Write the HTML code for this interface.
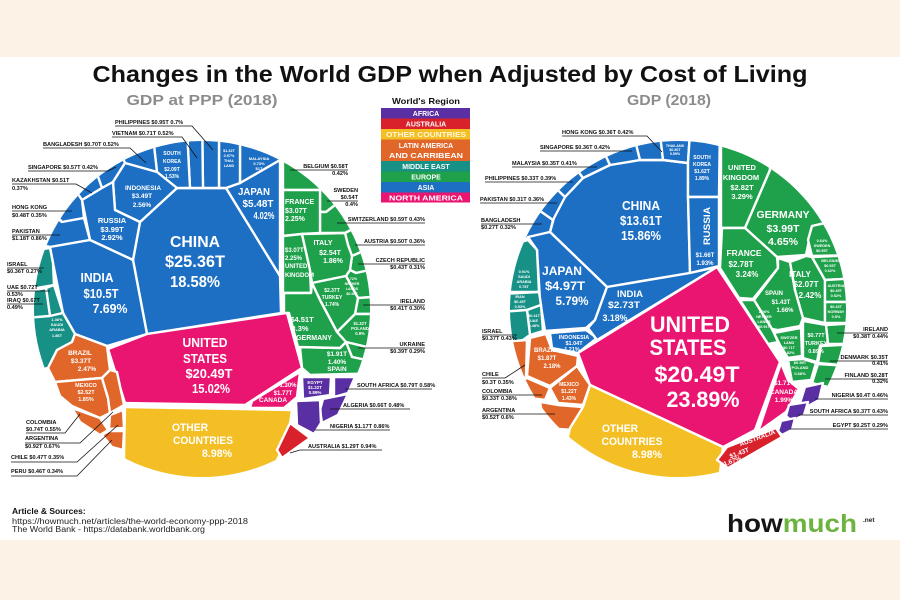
<!DOCTYPE html>
<html><head><meta charset="utf-8"><style>
html,body{margin:0;padding:0;background:#fff;}
svg{display:block;font-family:"Liberation Sans",Arial,sans-serif;}
</style></head><body>
<svg width="900" height="600" viewBox="0 0 900 600" xmlns="http://www.w3.org/2000/svg">
<defs>
<clipPath id="cl"><circle cx="202" cy="309" r="168"/></clipPath>
<clipPath id="cr"><circle cx="678" cy="309" r="168"/></clipPath>
</defs>
<rect x="0" y="0" width="900" height="600" fill="#fff"/>
<rect x="0" y="0" width="900" height="57" fill="#fdf2e6"/>
<rect x="0" y="540" width="900" height="60" fill="#fdf2e6"/>

<text x="450" y="82" text-anchor="middle" font-size="23" font-weight="bold" fill="#111" textLength="715" lengthAdjust="spacingAndGlyphs">Changes in the World GDP when Adjusted by Cost of Living</text>
<text x="202" y="105" text-anchor="middle" font-size="15" font-weight="bold" fill="#8c8c8c" textLength="151" lengthAdjust="spacingAndGlyphs">GDP at PPP (2018)</text>
<text x="669" y="105" text-anchor="middle" font-size="15" font-weight="bold" fill="#8c8c8c" textLength="84" lengthAdjust="spacingAndGlyphs">GDP (2018)</text>

<!-- legend -->
<text x="426" y="104" text-anchor="middle" font-size="8.5" font-weight="bold" fill="#111" textLength="68" lengthAdjust="spacingAndGlyphs">World's Region</text>
<rect x="381" y="108" width="89" height="10.5" fill="#5a2fa3"/>
<rect x="381" y="118.5" width="89" height="10.5" fill="#d9212b"/>
<rect x="381" y="129" width="89" height="10.5" fill="#f3bf24"/>
<rect x="381" y="139.5" width="89" height="21.5" fill="#e0662a"/>
<rect x="381" y="161" width="89" height="10.5" fill="#179086"/>
<rect x="381" y="171.5" width="89" height="10.5" fill="#1fa04a"/>
<rect x="381" y="182" width="89" height="10.5" fill="#1d6fc3"/>
<rect x="381" y="192.5" width="89" height="10" fill="#ea1570"/>
<g font-size="7" font-weight="bold" fill="#fff" text-anchor="middle">
<text x="426" y="116">AFRICA</text>
<text x="426" y="126.5">AUSTRALIA</text>
<text x="426" y="137" fill="#fff8e0" textLength="80" lengthAdjust="spacingAndGlyphs">OTHER COUNTRIES</text>
<text x="426" y="148">LATIN AMERICA</text>
<text x="426" y="158" textLength="74" lengthAdjust="spacingAndGlyphs">AND CARRIBEAN</text>
<text x="426" y="169">MIDDLE EAST</text>
<text x="426" y="179.5">EUROPE</text>
<text x="426" y="190">ASIA</text>
<text x="426" y="200.5" textLength="74" lengthAdjust="spacingAndGlyphs">NORTH AMERICA</text>
</g>

<!-- ================= LEFT CHART ================= -->
<g stroke="#fff" stroke-width="2.4" stroke-linejoin="round">
<g clip-path="url(#cl)">
<!-- Asia -->
<g fill="#1d6fc3">
<polygon points="177,188 226,188 280,276 281,313 147,334 133,260 140,222"/>
<polygon points="226,188 240,183 280,160 280,276"/>
<polygon points="240,183 240,110 282,110 280,160"/>
<polygon points="219,188 219,110 240,110 240,183 226,188"/>
<polygon points="203,188 202,110 219,110 219,188"/>
<polygon points="190,188 186,110 202,110 203,188"/>
<polygon points="157,172 150,110 186,110 190,188 177,188"/>
<polygon points="125,163 105,120 150,110 157,172"/>
<polygon points="102,188 85,140 105,120 125,163 113,182"/>
<polygon points="82,200 60,168 85,140 102,188"/>
<polygon points="113,182 125,163 157,172 177,188 140,222 115,210"/>
<polygon points="82,200 102,188 113,182 115,210 140,222 133,260 90,240"/>
<polygon points="62,222 40,195 60,168 82,200 84,218"/>
<polygon points="50,247 25,240 40,205 62,222 84,218 90,240"/>
<polygon points="50,247 90,240 133,260 147,334 107,346 75,334 63,313 53,263"/>
</g>
<!-- Middle East -->
<g fill="#179086">
<polygon points="25,252 50,248 53,263 54,285 25,290"/>
<polygon points="46,288 54,285 63,313 50,316"/>
<polygon points="25,292 46,288 50,316 25,318"/>
<polygon points="25,318 50,316 63,313 75,334 72,342 57,350 48,368 25,372"/>
</g>
<!-- Europe -->
<g fill="#1fa04a">
<polygon points="283,190 283,120 330,120 342,166 319,190"/>
<polygon points="320,190 342,166 360,186 326,212 320,212"/>
<polygon points="320,212 326,212 360,186 378,216 345,233 320,233"/>
<polygon points="345,233 378,216 391,239 352,256 348,245"/>
<polygon points="352,256 391,239 397,264 356,273 350,270"/>
<polygon points="346,276 350,270 356,273 397,264 400,295 358,298"/>
<polygon points="358,298 400,295 400,314 355,314"/>
<polygon points="355,314 400,314 396,354 346,342 337,332"/>
<polygon points="346,342 396,354 390,365 352,357"/>
<polygon points="300,347 340,348 346,342 352,357 390,365 385,373 310,375 302,368"/>
<polygon points="283,190 320,190 320,233 302,234 283,236"/>
<polygon points="283,236 302,234 310,270 311,293 283,293"/>
<polygon points="302,234 345,233 348,245 352,256 350,270 346,276 312,283 310,270"/>
<polygon points="312,283 346,276 358,298 355,314 337,332 320,300"/>
<polygon points="284,293 311,293 312,283 320,300 337,332 346,342 340,348 298,347 289,313 284,313"/>
</g>
<!-- North America -->
<polygon fill="#ea1570" points="108,349 147,334 287,313 302,368 245,405 125,403"/>
<polygon fill="#ea1570" points="300,372 297,397 284,408 250,408 252,401"/>
<!-- Other -->
<polygon fill="#f3bf24" points="125,407 292,410 288,438 276,462 270,490 125,490 124,455"/>
</g>
<!-- Latin America -->
<g fill="#e0662a">
<polygon points="57,350 72,342 75,334 107,346 110,370 102,378 55,382 48,368"/>
<polygon points="55,382 102,378 108,398 110,413 100,418 72,406 60,396"/>
<polygon points="102,378 110,370 117,372 124,405 110,413 108,398"/>
<polygon points="72,408 100,418 108,430 100,435 80,422"/>
<polygon points="110,415 123,410 124,428 109,429"/>
<polygon points="102,435 109,431 124,431 123,450 112,447"/>
</g>
<!-- Africa -->
<g fill="#5a2fa3">
<polygon points="302,377 331,377 330,395 303,399"/>
<polygon points="334,377 355,377 348,393 334,397"/>
<polygon points="323,399 348,394 338,415 322,423 320,410"/>
<polygon points="296,401 320,400 321,423 314,434 297,425"/>
</g>
<polygon fill="#d9212b" points="290,423 310,438 282,458 277,450"/>
</g>

<!-- left in-cell text -->
<g fill="#fff" font-weight="bold" text-anchor="middle">
<text x="195" y="247" font-size="16" textLength="50" lengthAdjust="spacingAndGlyphs">CHINA</text>
<text x="195" y="267" font-size="17" textLength="60" lengthAdjust="spacingAndGlyphs">$25.36T</text>
<text x="195" y="287" font-size="16" textLength="50" lengthAdjust="spacingAndGlyphs">18.58%</text>
<text x="97" y="282" font-size="13" textLength="33" lengthAdjust="spacingAndGlyphs">INDIA</text>
<text x="101" y="298" font-size="13" textLength="35" lengthAdjust="spacingAndGlyphs">$10.5T</text>
<text x="110" y="313" font-size="13" textLength="35" lengthAdjust="spacingAndGlyphs">7.69%</text>
<text x="254" y="195" font-size="10" textLength="32" lengthAdjust="spacingAndGlyphs">JAPAN</text>
<text x="258" y="207" font-size="10" textLength="31" lengthAdjust="spacingAndGlyphs">$5.48T</text>
<text x="264" y="219" font-size="10" textLength="21" lengthAdjust="spacingAndGlyphs">4.02%</text>
<text x="112" y="223" font-size="7.5">RUSSIA</text>
<text x="112" y="232" font-size="7.5">$3.99T</text>
<text x="112" y="240" font-size="7.5">2.92%</text>
<text x="143" y="190" font-size="6.5">INDONESIA</text>
<text x="142" y="198" font-size="6.5">$3.49T</text>
<text x="142" y="207" font-size="6.5">2.56%</text>
<g font-size="5"><text x="172" y="155">SOUTH</text><text x="172" y="163">KOREA</text><text x="172" y="171">$2.09T</text><text x="172" y="178">1.53%</text></g>
<g font-size="3.8"><text x="229" y="152">$1.32T</text><text x="229" y="157">0.97%</text><text x="229" y="162">THAI-</text><text x="229" y="167">LAND</text></g>
<g font-size="4"><text x="259" y="160">MALAYSIA</text><text x="259" y="165">0.73%</text><text x="259" y="170">$1T</text></g>
<g text-anchor="start" font-size="7"><text x="285" y="204">FRANCE</text><text x="285" y="213">$3.07T</text><text x="285" y="221">2.25%</text></g>
<g text-anchor="start" font-size="6"><text x="285" y="252">$3.07T</text><text x="285" y="260">2.25%</text><text x="285" y="268">UNITED</text><text x="285" y="277">KINGDOM</text></g>
<text x="323" y="245" font-size="7">ITALY</text>
<text x="330" y="255" font-size="7">$2.54T</text>
<text x="333" y="263" font-size="7">1.86%</text>
<g font-size="5"><text x="332" y="292">$2.37T</text><text x="332" y="299">TURKEY</text><text x="332" y="306">1.74%</text></g>
<g font-size="3.6"><text x="352" y="280">0.72%</text><text x="352" y="285">NETHER</text><text x="352" y="290">LANDS</text><text x="352" y="295">$0.98T</text></g>
<text x="302" y="322" font-size="7.5">$4.51T</text>
<text x="300" y="331" font-size="7.5">3.3%</text>
<text x="314" y="340" font-size="7">GERMANY</text>
<g font-size="4.2"><text x="360" y="325">$1.32T</text><text x="360" y="330">POLAND</text><text x="360" y="335">0.9%</text></g>
<g font-size="6.5"><text x="337" y="356">$1.91T</text><text x="337" y="364">1.40%</text><text x="337" y="371">SPAIN</text></g>
<g font-size="4"><text x="57" y="321">1.36%</text><text x="57" y="326">SAUDI</text><text x="57" y="331">ARABIA</text><text x="57" y="337">1.86T</text></g>
<text x="80" y="355" font-size="6.5">BRAZIL</text>
<text x="81" y="363" font-size="6.5">$3.37T</text>
<text x="87" y="371" font-size="6.5">2.47%</text>
<g font-size="5.5"><text x="86" y="387">MEXICO</text><text x="86" y="394">$2.52T</text><text x="86" y="401">1.85%</text></g>
<text x="205" y="347" font-size="13" textLength="45" lengthAdjust="spacingAndGlyphs">UNITED</text>
<text x="205" y="363" font-size="13" textLength="44" lengthAdjust="spacingAndGlyphs">STATES</text>
<text x="209" y="378" font-size="13" textLength="47" lengthAdjust="spacingAndGlyphs">$20.49T</text>
<text x="211" y="393" font-size="13" textLength="38" lengthAdjust="spacingAndGlyphs">15.02%</text>
<text x="288" y="387" font-size="6">1.30%</text>
<text x="283" y="395" font-size="6">$1.77T</text>
<text x="273" y="402" font-size="6.5">CANADA</text>
<g font-size="4.5"><text x="315" y="384">EGYPT</text><text x="315" y="389">$1.22T</text><text x="315" y="394">0.89%</text></g>
<text x="190" y="431" font-size="11" textLength="36" lengthAdjust="spacingAndGlyphs">OTHER</text>
<text x="203" y="444" font-size="11" textLength="60" lengthAdjust="spacingAndGlyphs">COUNTRIES</text>
<text x="217" y="457" font-size="11" textLength="30" lengthAdjust="spacingAndGlyphs">8.98%</text>
</g>

<!-- left outside labels -->
<g font-size="5.6" font-weight="bold" fill="#111">
<text x="115" y="124">PHILIPPINES $0.95T  0.7%</text>
<text x="112" y="135">VIETNAM $0.71T  0.52%</text>
<text x="43" y="146">BANGLADESH $0.70T  0.52%</text>
<text x="28" y="169">SINGAPORE $0.57T  0.42%</text>
<text x="12" y="182">KAZAKHSTAN $0.51T</text><text x="12" y="190">0.37%</text>
<text x="12" y="209">HONG KONG</text><text x="12" y="217">$0.48T  0.35%</text>
<text x="12" y="233">PAKISTAN</text><text x="12" y="240">$1.18T  0.86%</text>
<text x="7" y="266">ISRAEL</text><text x="7" y="273">$0.36T  0.27%</text>
<text x="7" y="289">UAE $0.72T</text><text x="7" y="296">0.53%</text>
<text x="7" y="302">IRAQ $0.67T</text><text x="7" y="309">0.49%</text>
<g text-anchor="end">
<text x="348" y="168">BELGIUM $0.58T</text><text x="348" y="175">0.42%</text>
<text x="358" y="192">SWEDEN</text><text x="358" y="199">$0.54T</text><text x="358" y="206">0.4%</text>
<text x="425" y="221">SWITZERLAND $0.59T 0.43%</text>
<text x="425" y="243">AUSTRIA $0.50T 0.36%</text>
<text x="425" y="262">CZECH REPUBLIC</text><text x="425" y="269">$0.43T 0.31%</text>
<text x="425" y="303">IRELAND</text><text x="425" y="310">$0.41T 0.30%</text>
<text x="425" y="346">UKRAINE</text><text x="425" y="353">$0.39T 0.29%</text>
</g>
<text x="357" y="387">SOUTH AFRICA $0.79T 0.58%</text>
<text x="343" y="407">ALGERIA $0.66T  0.48%</text>
<text x="330" y="428">NIGERIA $1.17T 0.86%</text>
<text x="308" y="448">AUSTRALIA  $1.29T  0.94%</text>
<text x="26" y="424">COLOMBIA</text><text x="26" y="431">$0.74T 0.55%</text>
<text x="25" y="440">ARGENTINA</text><text x="25" y="448">$0.92T 0.67%</text>
<text x="11" y="459">CHILE $0.47T  0.35%</text>
<text x="11" y="473">PERU $0.46T  0.34%</text>
</g>
<g stroke="#111" stroke-width="0.8" fill="none">
<path d="M115,126 H192 L213,150"/>
<path d="M112,137 H182 L197,158"/>
<path d="M43,148 H130 L146,163"/>
<path d="M28,171 H108 L116,167"/>
<path d="M12,184 H76 L92,193"/>
<path d="M12,211 H72"/>
<path d="M12,235 H60"/>
<path d="M7,268 H44"/>
<path d="M7,291 H50"/>
<path d="M7,304 H43"/>
<path d="M290,170 H348"/>
<path d="M327,201 H358"/>
<path d="M337,223 H425"/>
<path d="M355,245 H425"/>
<path d="M358,264 H425"/>
<path d="M363,305 H425"/>
<path d="M358,348 H425"/>
<path d="M345,389 H432"/>
<path d="M330,409 H410"/>
<path d="M315,430 H390"/>
<path d="M290,453 L300,450 H382"/>
<path d="M26,433 H65 L80,414"/>
<path d="M25,443 H80 L113,412"/>
<path d="M11,462 H77 L118,425"/>
<path d="M11,476 H77 L112,440"/>
</g>

<!-- ================= RIGHT CHART ================= -->
<g stroke="#fff" stroke-width="2.4" stroke-linejoin="round">
<g clip-path="url(#cr)">
<g fill="#1d6fc3">
<polygon points="550,232 557,207 570,190 583,178 610,165 640,160 663,160 688,163 688,197 690,273 607,287"/>
<polygon points="520,240 550,232 553,220 509,189 490,210"/>
<polygon points="553,220 565,197 531,164 509,189"/>
<polygon points="565,197 583,178 555,139 531,164"/>
<polygon points="583,178 610,165 590,122 555,139"/>
<polygon points="610,165 640,160 629,116 590,122"/>
<polygon points="640,160 663,160 658,116 629,116"/>
<polygon points="663,160 688,163 691,116 658,116"/>
<polygon points="688,163 691,116 720,116 719,197 688,197"/>
<polygon points="688,197 719,197 719,266 690,273"/>
<polygon points="528,237 550,232 607,287 595,320 586,328 545,331 540,300 537,250"/>
<polygon points="550,333 586,330 597,338 578,353 552,348"/>
<polygon points="607,287 690,273 717,267 597,340 588,328 595,320"/>
</g>
<g fill="#179086">
<polygon points="500,248 528,240 537,250 539,292 500,292"/>
<polygon points="500,294 539,292 541,305 527,310 500,312"/>
<polygon points="527,310 541,305 543,331 530,335"/>
<polygon points="500,312 527,310 530,335 520,342 500,342"/>
</g>
<g fill="#e0662a">
<polygon points="530,338 546,334 552,350 578,356 577,366 550,386 527,376"/>
<polygon points="500,342 527,340 526,377 518,380 500,370"/>
<polygon points="518,382 527,378 550,388 545,400 530,398"/>
<polygon points="577,366 590,385 583,405 558,403 550,388"/>
<polygon points="540,402 558,405 583,407 573,430 545,428"/>
</g>
<g fill="#1fa04a">
<polygon points="721,197 721,110 770,110 770,170 745,228 721,228"/>
<polygon points="745,228 770,170 770,110 870,110 870,213 812,226 806,255 777,257"/>
<polygon points="722,228 745,228 777,257 778,268 753,299 739,298 720,268"/>
<polygon points="778,258 790,262 795,290 803,318 800,326 778,330 772,329 754,300 778,268"/>
<polygon points="790,262 806,256 812,257 825,280 825,323 803,318 795,290"/>
<polygon points="812,226 870,213 860,255 812,256 808,240"/>
<polygon points="812,257 860,255 860,278 825,280"/>
<polygon points="825,280 860,278 860,302 825,302"/>
<polygon points="825,302 860,302 860,323 825,323"/>
<polygon points="826,325 860,323 860,344 828,344"/>
<polygon points="821,346 860,344 850,366 818,363"/>
<polygon points="818,364 850,366 840,390 812,383"/>
<polygon points="740,300 754,300 772,329 774,333 778,342 768,344"/>
<polygon points="774,333 801,328 802,356 788,358 780,345"/>
<polygon points="803,321 826,325 828,344 820,346 817,362 803,358"/>
<polygon points="788,360 803,359 816,363 811,380 792,382"/>
</g>
<polygon fill="#ea1570" points="578,353 717,267 780,362 755,430 723,447 590,385"/>
<polygon fill="#ea1570" points="781,363 788,380 799,389 786,412 758,432"/>
<polygon fill="#f3bf24" points="590,385 723,447 718,490 555,490 570,428 583,407"/>
</g>
<polygon fill="#d9212b" points="727,447 776,428 782,437 728,468 717,460"/>
<g fill="#5a2fa3">
<polygon points="805,387 823,383 819,400 806,407 800,403"/>
<polygon points="789,405 808,402 804,415 792,421 786,416"/>
<polygon points="781,421 795,418 792,430 782,435 778,431"/>
</g>
</g>

<!-- right in-cell text -->
<g fill="#fff" font-weight="bold" text-anchor="middle">
<text x="641" y="210" font-size="12.5" textLength="38" lengthAdjust="spacingAndGlyphs">CHINA</text>
<text x="641" y="225" font-size="12.5" textLength="42" lengthAdjust="spacingAndGlyphs">$13.61T</text>
<text x="641" y="240" font-size="12.5" textLength="40" lengthAdjust="spacingAndGlyphs">15.86%</text>
<text x="562" y="275" font-size="12" textLength="40" lengthAdjust="spacingAndGlyphs">JAPAN</text>
<text x="565" y="290" font-size="12" textLength="40" lengthAdjust="spacingAndGlyphs">$4.97T</text>
<text x="572" y="305" font-size="12" textLength="33" lengthAdjust="spacingAndGlyphs">5.79%</text>
<text x="630" y="297" font-size="9" textLength="26" lengthAdjust="spacingAndGlyphs">INDIA</text>
<text x="624" y="308" font-size="9" textLength="32" lengthAdjust="spacingAndGlyphs">$2.73T</text>
<text x="615" y="321" font-size="9" textLength="25" lengthAdjust="spacingAndGlyphs">3.18%</text>
<text x="0" y="0" font-size="9.5" transform="translate(710,226) rotate(-90)" textLength="38" lengthAdjust="spacingAndGlyphs">RUSSIA</text>
<text x="705" y="257" font-size="6">$1.66T</text>
<text x="705" y="265" font-size="6">1.93%</text>
<g font-size="5"><text x="702" y="159">SOUTH</text><text x="702" y="166">KOREA</text><text x="702" y="173">$1.62T</text><text x="702" y="180">1.89%</text></g>
<g font-size="3.6"><text x="675" y="147">THAILAND</text><text x="675" y="151">$0.50T</text><text x="675" y="155">0.59%</text></g>
<g font-size="7.5"><text x="742" y="170">UNITED</text><text x="741" y="180">KINGDOM</text><text x="742" y="190">$2.82T</text><text x="742" y="199">3.29%</text></g>
<text x="783" y="218" font-size="10" textLength="53" lengthAdjust="spacingAndGlyphs">GERMANY</text>
<text x="783" y="232" font-size="10" textLength="33" lengthAdjust="spacingAndGlyphs">$3.99T</text>
<text x="783" y="245" font-size="10" textLength="30" lengthAdjust="spacingAndGlyphs">4.65%</text>
<text x="744" y="256" font-size="8" textLength="35" lengthAdjust="spacingAndGlyphs">FRANCE</text>
<text x="741" y="267" font-size="8">$2.78T</text>
<text x="747" y="277" font-size="8">3.24%</text>
<text x="800" y="277" font-size="8">ITALY</text>
<text x="806" y="287" font-size="8">$2.07T</text>
<text x="810" y="298" font-size="8">2.42%</text>
<text x="774" y="295" font-size="6">SPAIN</text>
<text x="781" y="304" font-size="6">$1.43T</text>
<text x="785" y="312" font-size="6">1.66%</text>
<g font-size="3.8">
<text x="822" y="242">0.64%</text><text x="822" y="247">SWEDEN</text><text x="822" y="252">$0.55T</text>
<text x="830" y="262">BELGIUM</text><text x="830" y="267">$0.53T</text><text x="830" y="272">0.62%</text>
<text x="836" y="287">AUSTRIA</text><text x="836" y="292">$0.45T</text><text x="836" y="297">0.52%</text>
<text x="836" y="308">$0.43T</text><text x="836" y="313">NORWAY</text><text x="836" y="318">0.5%</text>
<text x="764" y="313">1.06%</text><text x="764" y="318">NETHER</text><text x="764" y="323">LANDS</text><text x="764" y="328">$0.91T</text>
<text x="789" y="339">SWITZER</text><text x="789" y="344">LAND</text><text x="789" y="349">$0.71T</text><text x="789" y="354">0.82%</text>
<text x="524" y="273">0.91%</text><text x="524" y="278">SAUDI</text><text x="524" y="283">ARABIA</text><text x="524" y="288">0.78T</text>
<text x="520" y="298">IRAN</text><text x="520" y="303">$0.45T</text><text x="520" y="308">0.53%</text>
<text x="534" y="317">$0.41T</text><text x="534" y="322">UAE</text><text x="534" y="327">0.48%</text>
</g>
<g font-size="5.5"><text x="816" y="337">$0.77T</text><text x="816" y="345">TURKEY</text><text x="816" y="353">0.89%</text></g>
<g font-size="4"><text x="800" y="364">$0.59T</text><text x="800" y="369">POLAND</text><text x="800" y="375">0.68%</text></g>
<g font-size="5.5"><text x="574" y="339">INDONESIA</text><text x="574" y="345">$1.04T</text><text x="572" y="351">1.21%</text></g>
<g font-size="6"><text x="545" y="352">BRAZIL</text><text x="547" y="360">$1.87T</text><text x="552" y="368">2.18%</text></g>
<g font-size="5"><text x="569" y="386">MEXICO</text><text x="569" y="393">$1.22T</text><text x="569" y="400">1.43%</text></g>
<text x="690" y="332" font-size="22" textLength="80" lengthAdjust="spacingAndGlyphs">UNITED</text>
<text x="688" y="355" font-size="22" textLength="77" lengthAdjust="spacingAndGlyphs">STATES</text>
<text x="697" y="382" font-size="22" textLength="85" lengthAdjust="spacingAndGlyphs">$20.49T</text>
<text x="703" y="407" font-size="22" textLength="73" lengthAdjust="spacingAndGlyphs">23.89%</text>
<g font-size="6.5"><text x="784" y="385">$1.71T</text><text x="784" y="394">CANADA</text><text x="784" y="402">1.99%</text></g>
<text x="620" y="432" font-size="11" textLength="36" lengthAdjust="spacingAndGlyphs">OTHER</text>
<text x="632" y="445" font-size="11" textLength="61" lengthAdjust="spacingAndGlyphs">COUNTRIES</text>
<text x="647" y="458" font-size="11" textLength="30" lengthAdjust="spacingAndGlyphs">8.98%</text>
<text x="0" y="0" font-size="6.5" transform="translate(758,440) rotate(-20)">AUSTRALIA</text>
<text x="0" y="0" font-size="6.5" transform="translate(740,455) rotate(-20)">$1.43T</text>
<text x="0" y="0" font-size="6.5" transform="translate(733,463) rotate(-20)">1.67%</text>
</g>

<!-- right outside labels -->
<g font-size="5.6" font-weight="bold" fill="#111">
<text x="562" y="134">HONG KONG  $0.36T  0.42%</text>
<text x="540" y="149">SINGAPORE $0.36T  0.42%</text>
<text x="512" y="165">MALAYSIA  $0.35T   0.41%</text>
<text x="485" y="180">PHILIPPINES $0.33T  0.39%</text>
<text x="480" y="201">PAKISTAN  $0.31T  0.36%</text>
<text x="481" y="222">BANGLADESH</text><text x="481" y="229">$0.27T  0.32%</text>
<text x="482" y="333">ISRAEL</text><text x="482" y="340">$0.37T  0.43%</text>
<text x="482" y="376">CHILE</text><text x="482" y="384">$0.3T  0.35%</text>
<text x="482" y="393">COLOMBIA</text><text x="482" y="400">$0.33T  0.38%</text>
<text x="482" y="412">ARGENTINA</text><text x="482" y="419">$0.52T  0.6%</text>
<g text-anchor="end">
<text x="888" y="331">IRELAND</text><text x="888" y="338">$0.38T 0.44%</text>
<text x="888" y="359">DENMARK  $0.35T</text><text x="888" y="365">0.41%</text>
<text x="888" y="377">FINLAND  $0.28T</text><text x="888" y="383">0.32%</text>
<text x="888" y="397">NIGERIA $0.4T 0.46%</text>
<text x="888" y="413">SOUTH AFRICA $0.37T 0.43%</text>
<text x="888" y="427">EGYPT $0.25T  0.29%</text>
</g>
</g>
<g stroke="#111" stroke-width="0.8" fill="none">
<path d="M562,136 H647 L662,152"/>
<path d="M540,151 H632"/>
<path d="M512,167 H597"/>
<path d="M485,182 H573"/>
<path d="M480,203 H557"/>
<path d="M481,224 H542"/>
<path d="M482,335 H517"/>
<path d="M482,378 H505 L525,365"/>
<path d="M482,395 H542"/>
<path d="M482,414 H555"/>
<path d="M837,333 H888"/>
<path d="M830,361 H888"/>
<path d="M825,379 H888"/>
<path d="M815,399 H888"/>
<path d="M798,415 H888"/>
<path d="M790,429 H888"/>
</g>

<!-- footer -->
<text x="12" y="514" font-size="8.5" font-weight="bold" fill="#111">Article &amp; Sources:</text>
<text x="12" y="524" font-size="7.8" fill="#222" textLength="236" lengthAdjust="spacingAndGlyphs">https://howmuch.net/articles/the-world-economy-ppp-2018</text>
<text x="12" y="532" font-size="7.8" fill="#222" textLength="193" lengthAdjust="spacingAndGlyphs">The World Bank - https://databank.worldbank.org</text>
<text x="727" y="532" font-size="25" font-weight="bold" textLength="130" lengthAdjust="spacingAndGlyphs"><tspan fill="#151515">how</tspan><tspan fill="#6db33f">much</tspan></text>
<text x="863" y="522" font-size="6.5" font-weight="bold" fill="#222">.net</text>
</svg>
</body></html>
